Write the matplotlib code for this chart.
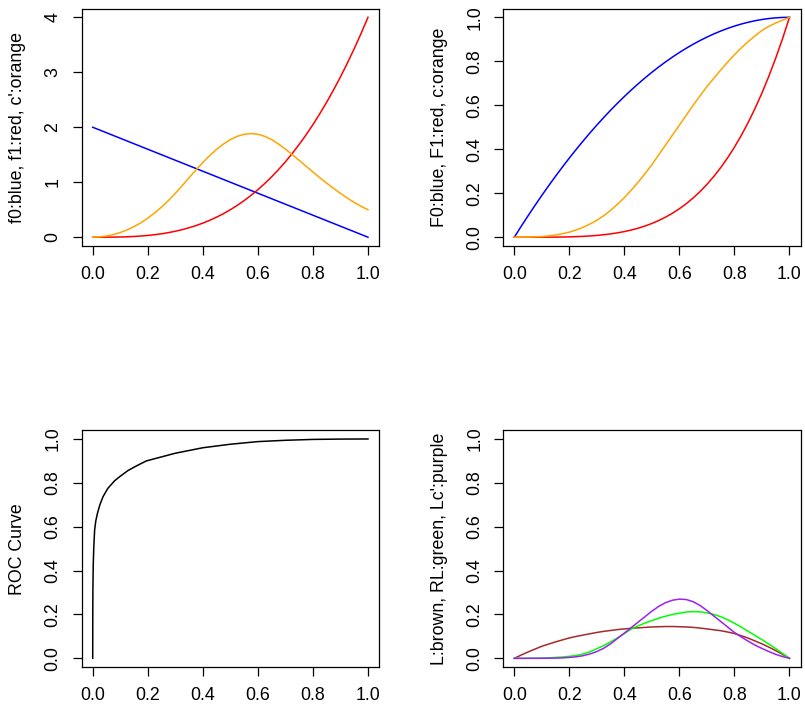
import matplotlib
matplotlib.use("Agg")
import matplotlib.pyplot as plt

plt.rcParams['font.family'] = ['Liberation Sans', 'DejaVu Sans']

# common x grid (step 0.025)
x = [0.0, 0.025, 0.05, 0.075, 0.1, 0.125, 0.15, 0.175, 0.2, 0.225, 0.25,
     0.275, 0.3, 0.325, 0.35, 0.375, 0.4, 0.425, 0.45, 0.475, 0.5,
     0.525, 0.55, 0.575, 0.6, 0.625, 0.65, 0.675, 0.7, 0.725, 0.75,
     0.775, 0.8, 0.825, 0.85, 0.875, 0.9, 0.925, 0.95, 0.975, 1.0]

# top left: densities f0, f1 and c'
f0 = [2.0, 1.95, 1.9, 1.85, 1.8, 1.75, 1.7, 1.65, 1.6, 1.55, 1.5,
      1.45, 1.4, 1.35, 1.3, 1.25, 1.2, 1.15, 1.1, 1.05, 1.0,
      0.95, 0.9, 0.85, 0.8, 0.75, 0.7, 0.65, 0.6, 0.55, 0.5,
      0.45, 0.4, 0.35, 0.3, 0.25, 0.2, 0.15, 0.1, 0.05, 0.0]
f1 = [0.0, 0.0001, 0.0005, 0.0017, 0.004, 0.0078, 0.0135, 0.0214, 0.032, 0.0456, 0.0625,
      0.0832, 0.108, 0.1373, 0.1715, 0.2109, 0.256, 0.3071, 0.3645, 0.4287, 0.5,
      0.5788, 0.6655, 0.7604, 0.864, 0.9766, 1.0985, 1.2302, 1.372, 1.5243, 1.6875,
      1.8619, 2.048, 2.2461, 2.4565, 2.6797, 2.916, 3.1658, 3.4295, 3.7074, 4.0]
cd = [0.0, 0.006, 0.022, 0.048, 0.085, 0.133, 0.192, 0.263, 0.346, 0.441, 0.548,
      0.667, 0.797, 0.937, 1.082, 1.222, 1.36, 1.485, 1.598, 1.695, 1.775,
      1.835, 1.872, 1.885, 1.873, 1.835, 1.775, 1.695, 1.602, 1.502, 1.398,
      1.292, 1.186, 1.082, 0.982, 0.887, 0.797, 0.712, 0.632, 0.562, 0.50]

# top right: cdfs F0, F1 and c
F0 = [0.0, 0.0494, 0.0975, 0.1444, 0.19, 0.2344, 0.2775, 0.3194, 0.36, 0.3994, 0.4375,
      0.4744, 0.51, 0.5444, 0.5775, 0.6094, 0.64, 0.6694, 0.6975, 0.7244, 0.75,
      0.7744, 0.7975, 0.8194, 0.84, 0.8594, 0.8775, 0.8944, 0.91, 0.9244, 0.9375,
      0.9494, 0.96, 0.9694, 0.9775, 0.9844, 0.99, 0.9944, 0.9975, 0.9994, 1.0]
F1 = [0.0, 0.0, 0.0, 0.00003, 0.0001, 0.00024, 0.0005, 0.0009, 0.0016, 0.0026, 0.0039,
      0.0057, 0.0081, 0.0112, 0.015, 0.0198, 0.0256, 0.0326, 0.041, 0.0509, 0.0625,
      0.076, 0.0915, 0.1093, 0.1296, 0.1526, 0.1785, 0.2076, 0.2401, 0.2763, 0.3164,
      0.3608, 0.4096, 0.4633, 0.522, 0.5862, 0.6561, 0.7321, 0.8145, 0.9037, 1.0]
C = [0.0, 0.0001, 0.0005, 0.0015, 0.003, 0.006, 0.01, 0.016, 0.023, 0.033, 0.045,
     0.06, 0.077, 0.098, 0.122, 0.15, 0.18, 0.214, 0.25, 0.289, 0.33,
     0.375, 0.42, 0.465, 0.51, 0.555, 0.60, 0.643, 0.685, 0.723, 0.76,
     0.796, 0.83, 0.861, 0.89, 0.916, 0.94, 0.959, 0.974, 0.987, 1.0]

# bottom left: ROC curve
roc_x = [0.0, 0.0002, 0.0007, 0.002, 0.004, 0.007, 0.011, 0.017, 0.026, 0.0375, 0.055,
         0.08, 0.1, 0.128, 0.16, 0.195, 0.24, 0.3, 0.4, 0.5, 0.6, 0.7, 0.8, 0.9, 1.0]
roc_y = [0.0, 0.2, 0.32, 0.43, 0.51, 0.585, 0.625, 0.66, 0.70, 0.737, 0.775,
         0.81, 0.83, 0.856, 0.878, 0.90, 0.915, 0.935, 0.96, 0.976, 0.988, 0.994, 0.998, 0.9995, 1.0]

# bottom right: L, RL, Lc'
L = [0.0, 0.015, 0.029, 0.042, 0.055, 0.065, 0.075, 0.084, 0.093, 0.1, 0.106,
     0.112, 0.118, 0.123, 0.127, 0.131, 0.134, 0.137, 0.139, 0.141, 0.143,
     0.144, 0.145, 0.145, 0.144, 0.143, 0.141, 0.138, 0.134, 0.130, 0.126,
     0.120, 0.113, 0.103, 0.092, 0.079, 0.066, 0.051, 0.035, 0.018, 0.0]
RL = [0.0, 0.0, 0.0002, 0.0005, 0.001, 0.002, 0.004, 0.006, 0.009, 0.013, 0.02,
      0.03, 0.044, 0.058, 0.075, 0.093, 0.113, 0.134, 0.148, 0.161, 0.172,
      0.183, 0.192, 0.2, 0.206, 0.211, 0.213, 0.212, 0.207, 0.2, 0.19,
      0.176, 0.16, 0.142, 0.123, 0.104, 0.085, 0.065, 0.044, 0.022, 0.0]
Lc = [0.0, 0.0, 0.0, 0.0001, 0.0003, 0.0006, 0.001, 0.002, 0.004, 0.007, 0.012,
      0.02, 0.031, 0.046, 0.066, 0.091, 0.115, 0.14, 0.165, 0.19, 0.215,
      0.237, 0.254, 0.265, 0.27, 0.268, 0.258, 0.241, 0.218, 0.193, 0.168,
      0.143, 0.118, 0.097, 0.078, 0.06, 0.045, 0.031, 0.018, 0.008, 0.0]

xticks = [0.0, 0.2, 0.4, 0.6, 0.8, 1.0]
xtlab = ["0.0", "0.2", "0.4", "0.6", "0.8", "1.0"]
yt01 = [0.0, 0.2, 0.4, 0.6, 0.8, 1.0]
ytl01 = ["0.0", "0.2", "0.4", "0.6", "0.8", "1.0"]

fig = plt.figure(figsize=(8.05, 7.14), dpi=100)
W, H = 805, 714
FS = 12.8


def panel(l, t, r, b, ylab, labx, ymax, yticks, ytlab):
    # box given in pixels, like R's plot region
    ax = fig.add_axes([l / W, 1 - b / H, (r - l) / W, (b - t) / H])
    ax.set_xlim(-0.04, 1.04)
    pad = ymax * 0.04
    ax.set_ylim(-pad, ymax + pad)
    ax.set_xticks(xticks)
    ax.set_xticklabels(xtlab)
    ax.set_yticks(yticks)
    ax.set_yticklabels(ytlab, rotation=90, va='center')
    ax.tick_params(direction='out', length=6.5, width=0.9, labelsize=FS,
                   pad=8, color='black')
    for s in ax.spines.values():
        s.set_linewidth(0.9)
    ax.set_ylabel(ylab, fontsize=FS, va='center')
    ax.yaxis.set_label_coords((labx - l) / (r - l), 0.5)
    return ax


ax1 = panel(81.7, 8.5, 379, 246, "f0:blue, f1:red, c':orange", 18, 4,
            [0, 1, 2, 3, 4], ["0", "1", "2", "3", "4"])
ax1.plot(x, f0, color='blue', lw=1.1)
ax1.plot(x, f1, color='red', lw=1.1)
ax1.plot(x, cd, color='orange', lw=1.1)

ax2 = panel(503.3, 8.5, 800.5, 246, "F0:blue, F1:red, c:orange", 439, 1, yt01, ytl01)
ax2.plot(x, F0, color='blue', lw=1.1)
ax2.plot(x, F1, color='red', lw=1.1)
ax2.plot(x, C, color='orange', lw=1.1)

ax3 = panel(81.7, 430.2, 379, 667.1, "ROC Curve", 18, 1, yt01, ytl01)
ax3.plot(roc_x, roc_y, color='black', lw=1.1)

ax4 = panel(503.3, 430.2, 800.5, 667.1, "L:brown, RL:green, Lc':purple", 439, 1, yt01, ytl01)
ax4.plot(x, L, color='brown', lw=1.1)
ax4.plot(x, RL, color='#00FF00', lw=1.1)
ax4.plot(x, Lc, color='#A020F0', lw=1.1)

fig.savefig("out.png", dpi=100)
